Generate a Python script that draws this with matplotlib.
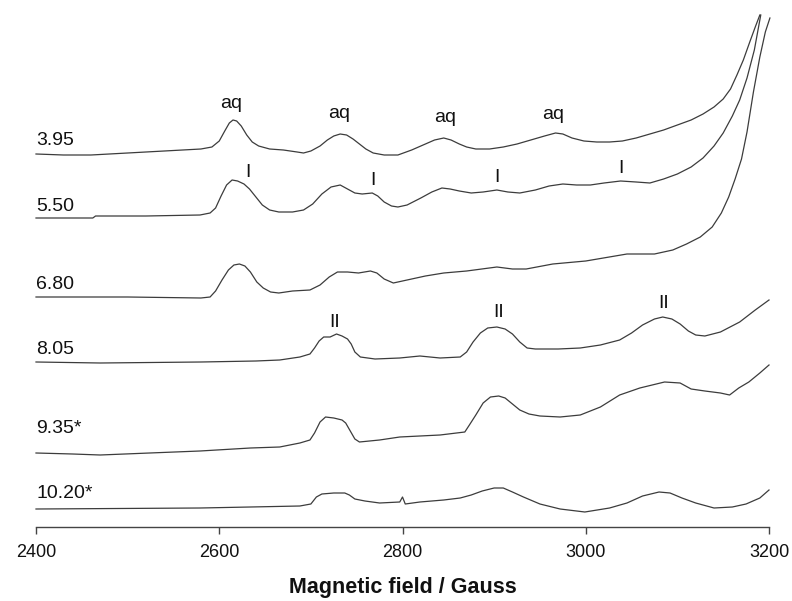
import matplotlib
matplotlib.use("Agg")
import matplotlib.pyplot as plt

plt.rcParams['font.family'] = ['Liberation Sans', 'DejaVu Sans']

# ---- data ----
labels = ["3.95", "5.50", "6.80", "8.05", "9.35*", "10.20*"]

f_395 = [2400, 2430, 2460, 2500, 2540, 2580, 2592, 2600, 2606, 2611, 2615, 2619, 2624, 2630,
         2636, 2643, 2655, 2670, 2685, 2692, 2700, 2710, 2718, 2725, 2732, 2739, 2746, 2753,
         2760, 2768, 2780, 2795, 2810, 2825, 2835, 2845, 2853, 2862, 2870, 2880, 2895, 2910,
         2925, 2940, 2955, 2967, 2975, 2985, 2998, 3012, 3026, 3040, 3055, 3070, 3085, 3100,
         3115, 3128, 3140, 3150, 3158, 3165, 3172, 3179, 3185, 3190]
i_395 = [1, 0, 0, 2, 4, 6, 8, 14, 24, 32, 35, 34, 29, 20,
         13, 9, 6, 5, 3, 2, 4, 9, 15, 19, 21, 20, 16, 11,
         6, 2, 0, 0, 5, 11, 15, 17, 15, 11, 8, 6, 6, 8,
         11, 15, 19, 22, 21, 17, 14, 13, 13, 14, 17, 21, 25, 30,
         35, 41, 48, 56, 66, 80, 95, 113, 128, 140]

f_550 = [2400, 2462, 2465, 2520, 2579, 2590, 2596, 2602, 2608, 2614, 2620, 2627, 2633, 2640,
         2647, 2655, 2665, 2680, 2692, 2702, 2712, 2722, 2732, 2740, 2748, 2756, 2767, 2773,
         2780, 2788, 2795, 2805, 2820, 2832, 2843, 2852, 2862, 2875, 2888, 2903, 2915, 2928,
         2945, 2960, 2975, 2990, 3005, 3020, 3038, 3055, 3070, 3085, 3100, 3115, 3128, 3140,
         3150, 3160, 3168, 3176, 3184, 3191]
i_550 = [0, 0, 2, 2, 3, 5, 10, 22, 33, 38, 37, 34, 29, 21,
         13, 8, 6, 6, 8, 14, 24, 31, 33, 29, 25, 24, 25, 22,
         16, 12, 11, 13, 20, 26, 30, 29, 27, 25, 26, 28, 26, 25,
         28, 32, 34, 33, 33, 35, 37, 36, 35, 39, 44, 51, 60, 72,
         85, 102, 118, 140, 168, 203]

f_680 = [2400, 2500, 2580, 2590, 2596, 2603, 2610, 2616, 2622, 2628, 2634, 2641, 2648, 2656,
         2665, 2680, 2699, 2710, 2720, 2729, 2740, 2752, 2765, 2772, 2780, 2790, 2805, 2825,
         2845, 2870, 2903, 2920, 2935, 2964, 3000, 3045, 3075, 3095, 3110, 3125, 3138, 3148,
         3156, 3163, 3170, 3176, 3183, 3190, 3196, 3201]
i_680 = [0, 0, -1, 0, 6, 17, 27, 32, 33, 31, 25, 15, 9, 5,
         4, 6, 7, 12, 20, 25, 25, 24, 26, 24, 18, 14, 17, 21,
         24, 26, 30, 28, 28, 33, 36, 43, 43, 47, 53, 60, 70, 84,
         100, 118, 138, 165, 205, 240, 265, 279]

f_805 = [2400, 2470, 2580, 2640, 2666, 2688, 2699, 2704, 2709, 2714, 2721, 2728, 2734, 2740,
         2744, 2748, 2754, 2770, 2797, 2819, 2841, 2863, 2870, 2877, 2885, 2893, 2903, 2912,
         2920, 2928, 2936, 2945, 2970, 2994, 3016, 3037, 3050, 3062, 3075, 3084, 3094, 3103,
         3112, 3120, 3130, 3147, 3168, 3185, 3200]
i_805 = [0, -1, 0, 1, 2, 5, 8, 14, 21, 25, 25, 28, 26, 23,
         18, 10, 5, 3, 4, 6, 4, 5, 10, 20, 29, 34, 35, 33,
         28, 20, 14, 13, 13, 14, 17, 22, 29, 37, 43, 45, 43, 38,
         31, 27, 26, 30, 40, 52, 62]

f_935 = [2400, 2440, 2470, 2524, 2579, 2634, 2666, 2688, 2699, 2704, 2710, 2716, 2725, 2734,
         2738, 2743, 2748, 2753, 2775, 2797, 2841, 2868, 2873, 2880, 2888, 2896, 2905, 2912,
         2920, 2928, 2938, 2950, 2972, 2994, 3016, 3037, 3059, 3086, 3103, 3115, 3130, 3147,
         3157, 3167, 3178, 3190, 3200]
i_935 = [0, -1, -2, 0, 2, 5, 6, 10, 13, 20, 31, 36, 35, 33,
         30, 22, 14, 11, 13, 16, 18, 21, 28, 38, 50, 56, 57, 55,
         49, 43, 39, 37, 36, 38, 46, 58, 65, 71, 70, 64, 62, 60,
         58, 65, 71, 80, 88]

f_1020 = [2400, 2579, 2634, 2688, 2700, 2706, 2712, 2725, 2737, 2742, 2748, 2759, 2775, 2797,
          2800, 2803, 2819, 2845, 2863, 2875, 2887, 2900, 2910, 2920, 2932, 2950, 2972, 2999,
          3026, 3045, 3062, 3080, 3092, 3105, 3120, 3140, 3160, 3175, 3190, 3200]
i_1020 = [0, 1, 2, 3, 5, 12, 15, 16, 16, 14, 10, 8, 6, 7,
          12, 5, 7, 9, 11, 14, 18, 21, 21, 17, 12, 5, 0, -3,
          1, 6, 13, 17, 16, 11, 6, 1, 2, 5, 11, 19]

fields = [f_395, f_550, f_680, f_805, f_935, f_1020]
intens = [i_395, i_550, i_680, i_805, i_935, i_1020]

# peak annotations
ann_text = ["aq", "aq", "aq", "aq", "I", "I", "I", "I", "II", "II", "II"]
ann_field = [2613, 2731, 2846, 2964, 2631, 2768, 2903, 3038, 2726, 2905, 3085]

xticks = [2400, 2600, 2800, 3000, 3200]

# ---- layout (stacking offsets and text heights, figure units = px from bottom) ----
offsets = [446, 383, 304, 239, 148, 92]
label_base = [456, 390, 312, 247, 168, 103]
ann_base = [493, 483, 479, 482, 424, 416, 419, 428, 274, 284, 293]

W, H = 792, 601
fig = plt.figure(figsize=(W / 100, H / 100), dpi=100)
ax = fig.add_axes([36 / W, 74 / H, 733 / W, 527 / H])
ax.set_xlim(2400, 3200)
ax.set_ylim(74, 601)

line_col = '#3c3c3c'
for f, i, off in zip(fields, intens, offsets):
    ax.plot(f, [off + v for v in i], color=line_col, lw=0.9, clip_on=False)

for lab, yb in zip(labels, label_base):
    ax.text(2400, yb, lab, ha='left', va='baseline', fontsize=14, color='#111111')

for t, fx, yb in zip(ann_text, ann_field, ann_base):
    ax.text(fx, yb, t, ha='center', va='baseline', fontsize=14, color='#111111')

for s in ['left', 'right', 'top']:
    ax.spines[s].set_visible(False)
ax.spines['bottom'].set_color('#444444')
ax.spines['bottom'].set_linewidth(1.0)
ax.set_yticks([])
ax.set_xticks(xticks)
ax.set_xticklabels([str(x) for x in xticks])
ax.tick_params(axis='x', direction='out', length=5, width=1, color='#444444',
               labelsize=13, pad=7, labelcolor='#111111')
ax.set_xlabel("Magnetic field / Gauss", fontsize=15.5, fontweight='bold', labelpad=12,
              color='#111111')

fig.savefig("out.png", dpi=100)
